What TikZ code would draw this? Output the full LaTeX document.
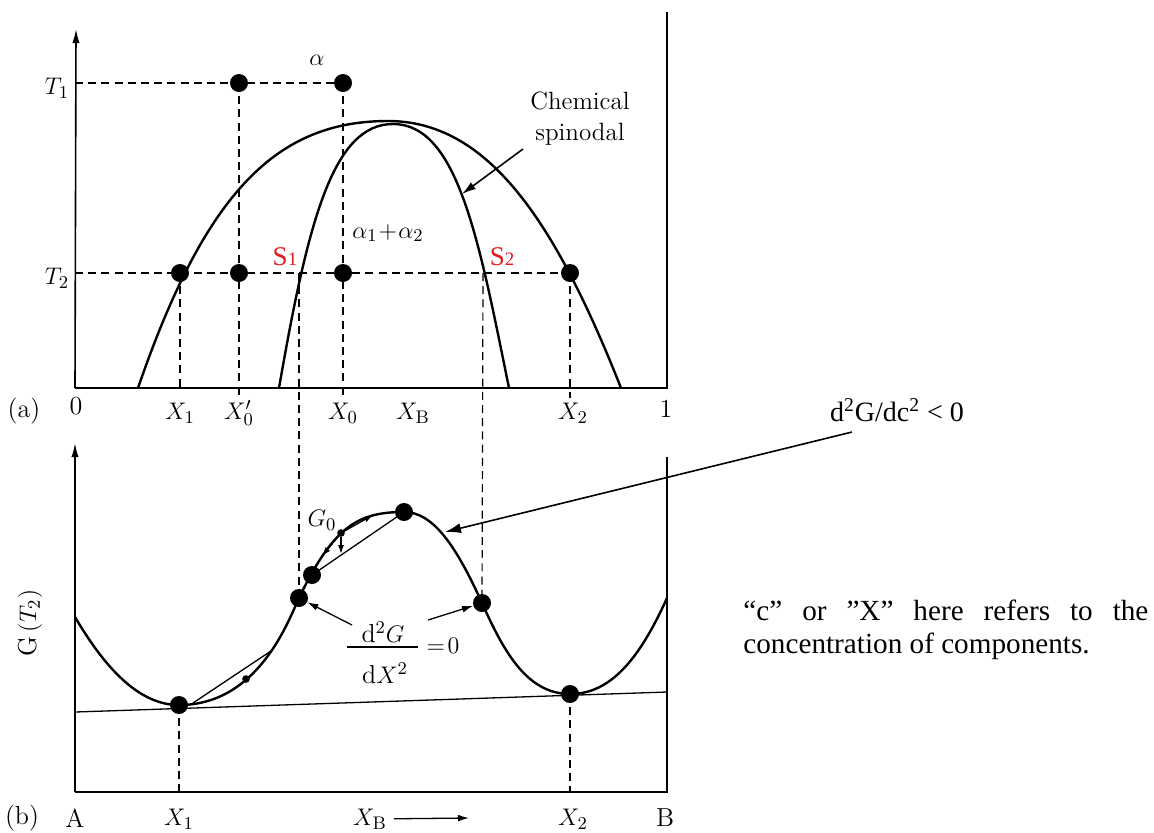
\documentclass[tikz,border=0pt]{standalone}
\usepackage{amsmath}
\usepackage{fontspec}
\newfontfamily\tnrfont{Liberation Serif}
\usetikzlibrary{arrows.meta,positioning,calc}
\definecolor{spRed}{HTML}{E5191E}

\begin{document}
\begin{tikzpicture}[x=0.5pt,y=-0.5pt,
  every node/.style={font=\fontsize{13}{16}\selectfont},
  >={Latex[length=5.5pt,width=3.4pt]},
  axis/.style={line width=0.8pt},
  curve/.style={line width=1.2pt},
  chord/.style={line width=0.65pt},
  guide/.style={line width=0.6pt,dash pattern=on 4pt off 2.6pt},
  dot/.style={circle,fill=black,inner sep=0pt,minimum size=9pt},
  sdot/.style={circle,fill=black,inner sep=0pt,minimum size=3.8pt},
  tnr/.style={font=\tnrfont\fontsize{14.6}{16.5}\selectfont},
  slab/.style={text=spRed,font=\tnrfont\fontsize{13.5}{15}\selectfont}]
\useasboundingbox (0,0) rectangle (1154,832);

% (a) phase diagram
\coordinate (oA) at (75,388);
\coordinate (tA) at (76,29);
\coordinate (eA) at (667,388);
\coordinate (rA) at (667,12);
\draw[axis,-{Latex[length=7pt,width=3.6pt]}] (oA) -- (tA);
\draw[axis] (rA) -- (eA) -- (oA);

\coordinate (yT1) at (75,83);
\coordinate (yT2) at (75,273);
\foreach \n/\x/\y in {p1/239/83,p2/343/83,q1/180/273,q2/239/273,q3/343/273,q4/570/273,
  s1/299/273,s2/483/273,f1/180/388,f2/239/398,f3/343/398,f4/570/398}
  \coordinate (\n) at (\x,\y);
\foreach \n/\x/\y in {g1/299/598,g2/482/603,m1/179/705,m2/570/694,h1/312/575,pk/404/512,
  g0/341/533,sm/246/679,c1/193/703,c2/271/651,tl/75/712,tr/667/692,
  a1/373/515,a2/322/556,a3/341/554,fm1/352/625,fm2/428/620,ls/852/432,lt/445/532}
  \coordinate (\n) at (\x,\y);

\draw[guide] (yT1) -- (p2);
\draw[guide] (yT2) -- (q4);
\draw[guide] (p1) -- (f2);
\draw[guide] (p2) -- (f3);
\draw[guide] (q1) -- (f1);
\draw[guide] (q4) -- (f4);
\draw[guide] (s1) -- (g1);
\draw[guide] (s2) -- (g2);

% binodal and spinodal
\draw[curve] (138,388) .. controls (206,190) and (278,121) .. (388,121)
  .. controls (488,121) and (555,221) .. (621,388);
\draw[curve] (279,388) .. controls (308,221) and (333,124) .. (393,124)
  .. controls (458,124) and (479,241) .. (509,388);

\foreach \n in {p1,p2,q1,q2,q3,q4}
  \node[dot] (d\n) at (\n) {};

\node (lT1) at (57,88) {$T_1$};
\node (lT2) at (57,278) {$T_2$};
\node (lal) at (317,60) {$\alpha$};
\node (lal2) at (388,233) {$\alpha_1\!+\!\alpha_2$};
\node[slab] (lS1) at (285,257) {S{\fontsize{9.5}{10}\selectfont 1}};
\node[slab] (lS2) at (502,257) {S{\fontsize{9.5}{10}\selectfont 2}};
\node[align=center,font=\fontsize{12.5}{15.5}\selectfont] (lchem) at (580,119) {Chemical\\spinodal};
\coordinate (chA) at (523,149);
\coordinate (chB) at (462,194);
\draw[line width=0.8pt,-{Latex[length=7pt,width=4.2pt]}] (chA) -- (chB);

\node (la) at (24,411) {(a)};
\node (l0) at (76,406) {0};
\node (l1) at (666,409) {1};
\node (lX1a) at (180,413) {$X_1$};
\node (lX0p) at (239,413) {$X_0'$};
\node (lX0) at (343,413) {$X_0$};
\node (lXBa) at (413,413) {$X_{\mathrm{B}}$};
\node (lX2a) at (573,413) {$X_2$};

% (b) free energy curve at T2
\coordinate (oB) at (75,792);
\coordinate (tB) at (75,443);
\coordinate (eB) at (667,792);
\coordinate (rB) at (667,457);
\draw[axis,-{Latex[length=7pt,width=3.6pt]}] (oB) -- (tB);
\draw[axis] (rB) -- (eB) -- (oB);

\draw[chord] (tl) -- (tr);
\draw[curve] (75,617) .. controls (105,668) and (139,705) .. (m1)
  .. controls (259,705) and (289,619) .. (g1)
  .. controls (334,525) and (359,512) .. (pk)
  .. controls (434,512) and (457,548) .. (g2)
  .. controls (502,647) and (525,694) .. (m2)
  .. controls (610,694) and (639,660) .. (667,598);
\draw[chord] (c1) -- (c2);
\draw[chord] (h1) -- (pk);
\draw[guide] (m1) -- (m1 |- oB);
\draw[guide] (m2) -- (m2 |- oB);

\foreach \n in {g1,g2,m1,m2,h1,pk}
  \node[dot] (d\n) at (\n) {};
\node[sdot] (dg0) at (g0) {};
\node[sdot] (dsm) at (sm) {};

\draw[chord,-{Latex[length=4.5pt,width=3pt]}] (dg0) -- (a1);
\draw[chord,-{Latex[length=4.5pt,width=3pt]}] (dg0) -- (a2);
\draw[chord,-{Latex[length=4.5pt,width=3pt]}] (dg0) -- (a3);
\node (lG0) at (322,520) {$G_0$};

\node (fnum) at (383,632) {$\mathrm{d}^2G$};
\node (fden) at (385,673) {$\mathrm{d}X^2$};
\coordinate (fbl) at (347,647);
\coordinate (fbr) at (418,647);
\draw[chord] (fbl) -- (fbr);
\node (feq) at (443,646) {$=\!0$};
\draw[chord,->] (fm1) -- (dg1);
\draw[chord,->] (fm2) -- (dg2);

\node (lb) at (22,818) {(b)};
\node (lA) at (75,818) {A};
\node (lX1b) at (179,819) {$X_1$};
\node (lXBb) at (370,819) {$X_{\mathrm{B}}$};
\coordinate (xbe) at (469,818);
\draw[chord,->] (lXBb) -- (xbe);
\node (lX2b) at (573,819) {$X_2$};
\node (lB) at (665,818) {B};
\node[rotate=90] (lG) at (30,623) {G\,$(T_2)$};

% annotations
\node[tnr,font=\tnrfont\fontsize{14}{16}\selectfont] (lneg) at (897,410) {d\textsuperscript{2}G/dc\textsuperscript{2} < 0};
\draw[line width=0.8pt,-{Latex[length=8pt,width=5pt]}] (ls) -- (lt);
\node[tnr,text width=202.5pt,align=justify,anchor=north west,inner sep=0pt] (note) at (743,600)
  {“c” or ”X” here refers to the\linebreak concentration of components.};
\end{tikzpicture}
\end{document}
